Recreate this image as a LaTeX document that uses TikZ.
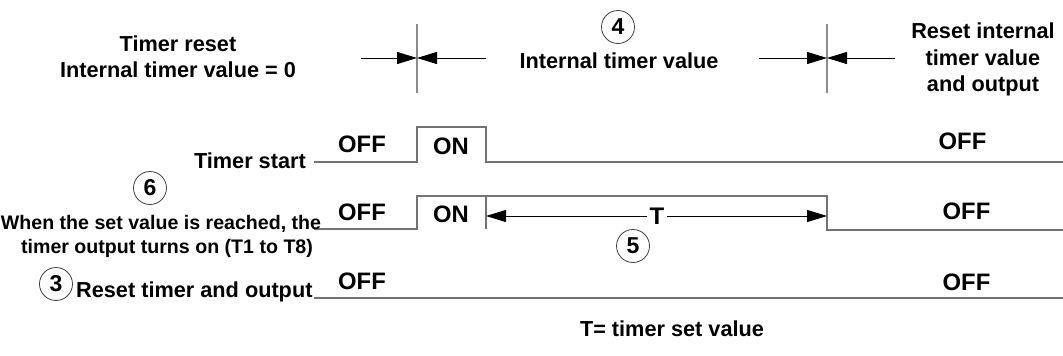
\documentclass[tikz,border=0pt]{standalone}
\usepackage{fontspec}
\setmainfont{Liberation Sans}
\usetikzlibrary{arrows.meta}
\begin{document}
\begin{tikzpicture}[x=1pt,y=-1pt,
	sig/.style={draw=black!55, line width=1.3pt},
	tick/.style={draw=black!45, line width=1.2pt},
	dim/.style={-{Triangle[length=20pt,width=12pt]}, line width=1pt},
	lbl/.style={font=\bfseries\fontsize{21.7}{24}\selectfont, inner sep=0pt, anchor=base},
	small/.style={font=\bfseries\fontsize{19.6}{23}\selectfont, inner sep=0pt, anchor=base},
	state/.style={font=\bfseries\fontsize{23.8}{26}\selectfont, inner sep=0pt, anchor=base},
	num/.style={circle, draw=black!75, line width=0.8pt, minimum size=33pt, inner sep=0pt,
		font=\bfseries\fontsize{23}{23}\selectfont}]
	\useasboundingbox (0,0) rectangle (1063,356);
	\def\xa{314}  % signals begin
	\def\xb{417}  % timer start on
	\def\xc{486}  % timer start off
	\def\xd{827}  % set value reached / reset
	\def\xe{1063} % right edge

	% reset marks at the top
	\foreach \x/\l/\r [count=\i] in {\xb/361/486, \xd/759/895} {
		\coordinate (top\i) at (\x, 24);
		\coordinate (bot\i) at (\x, 93);
		\coordinate (mid\i) at (\x, 58);
		\coordinate (left\i) at (\l, 58);
		\coordinate (right\i) at (\r, 58);
		\draw [tick] (top\i) -- (bot\i);
		\draw [dim] (left\i) -- (mid\i);
		\draw [dim] (right\i) -- (mid\i);
	}
	\node [lbl] (reset1) at (178, 51) {Timer reset};
	\node [lbl] (reset2) at (178, 77) {Internal timer value = 0};
	\node [num] (n4) at (618, 27) {4};
	\node [lbl] (value) at (619, 68) {Internal timer value};
	\node [lbl] (clear1) at (983, 38) {Reset internal};
	\node [lbl] (clear2) at (983, 65) {timer value};
	\node [lbl] (clear3) at (983, 91) {and output};

	% timer start
	\draw [sig] (\xa,162) -- (\xb,162) -- (\xb,127) -- (\xc,127) -- (\xc,162) -- (\xe,162);
	\node [lbl, anchor=base east] (start) at (306, 168) {Timer start};
	\node [state] (off1) at (362, 152) {OFF};
	\node [state] (on1) at (451, 154) {ON};
	\node [state] (off2) at (962.5, 149) {OFF};

	% timer output
	\draw [sig] (\xa,229) -- (\xb,229) -- (\xb,196) -- (\xd,196) -- (\xd,230) -- (\xe,230);
	\draw [sig] (\xc,196) -- (\xc,229);
	\node [num] (n6) at (150, 188) {6};
	\node [small] (out1) at (161, 229) {When the set value is reached, the};
	\node [small] (out2) at (167, 253) {timer output turns on (T1 to T8)};
	\node [state] (off3) at (362, 220) {OFF};
	\node [state] (on2) at (451, 222) {ON};
	\node [state] (off4) at (966.5, 219) {OFF};
	\coordinate (ts) at (\xc, 216);
	\coordinate (te) at (\xd, 216);
	\node [fill=white, inner xsep=2pt, inner ysep=0pt, font=\bfseries\fontsize{24}{24}\selectfont] (T) at (657, 216) {T};
	\draw [dim] (T) -- (ts);
	\draw [dim] (T) -- (te);
	\node [num] (n5) at (633, 246) {5};

	% reset input
	\draw [sig] (\xa,298) -- (\xe,298);
	\node [num] (n3) at (56, 284) {3};
	\node [lbl, anchor=base west] (rst) at (76, 297) {Reset timer and output};
	\node [state] (off5) at (362, 289) {OFF};
	\node [state] (off6) at (966.5, 290) {OFF};

	\node [lbl] (note) at (672, 336) {T= timer set value};
\end{tikzpicture}
\end{document}
